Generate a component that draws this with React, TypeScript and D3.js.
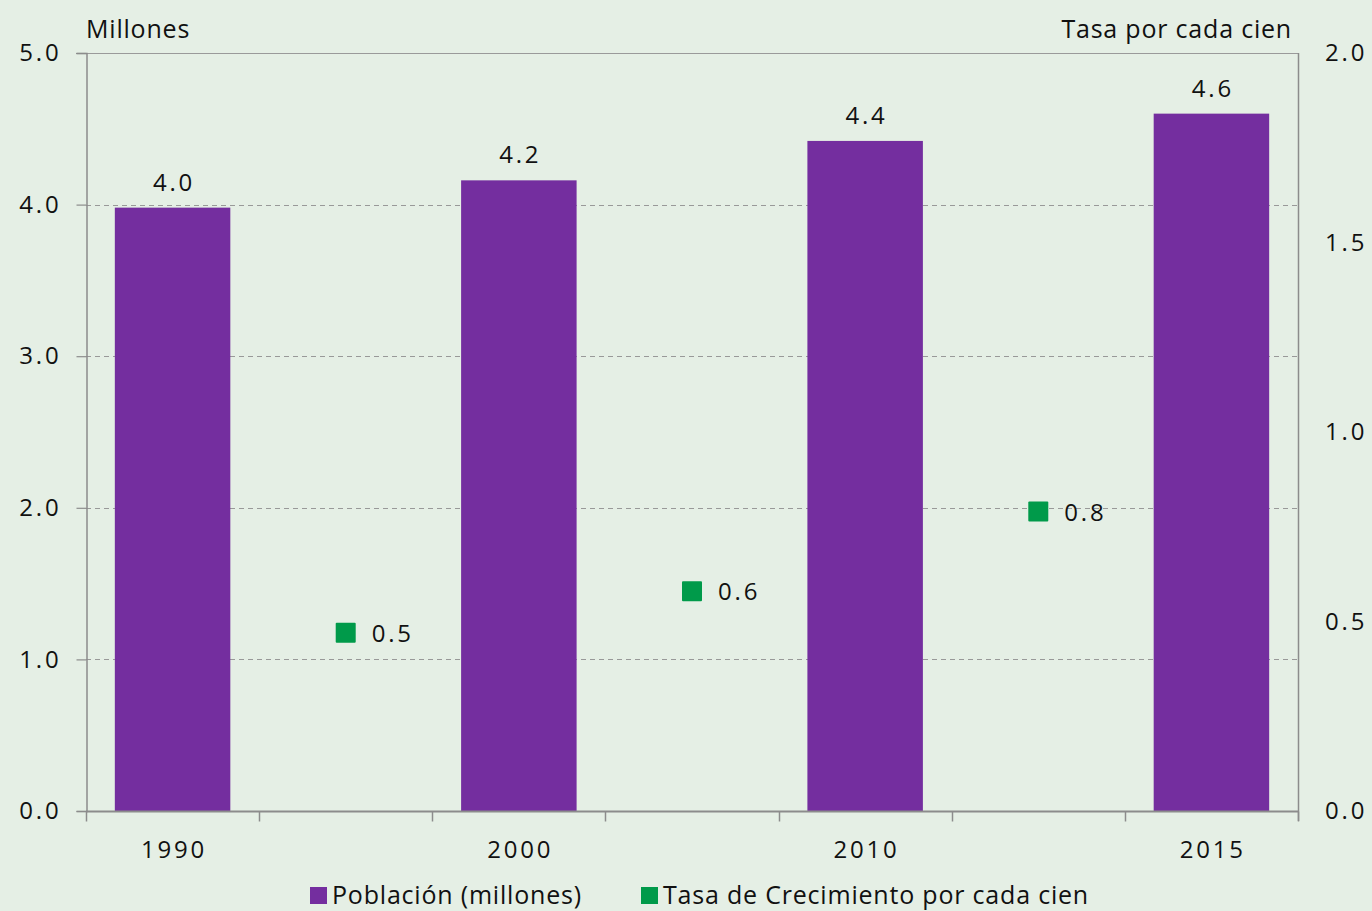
import React, { useEffect, useRef } from 'react';
import * as d3 from 'd3';

// Categories: 7 slots, bars on the year slots, growth markers in between
const slots = ['1990', 'g1', '2000', 'g2', '2010', 'g3', '2015'];
const years = ['1990', '2000', '2010', '2015'];
const poblacion = [3.98, 4.16, 4.42, 4.6];
const poblacionLabels = ['4.0', '4.2', '4.4', '4.6'];
const tasaSlots = ['g1', 'g2', 'g3'];
const tasa = [0.47, 0.58, 0.79];
const tasaLabels = ['0.5', '0.6', '0.8'];
const leftTicks = [0, 1, 2, 3, 4, 5];
const rightTicks = [0, 0.5, 1, 1.5, 2];

const PURPLE = '#742e9f';
const GREEN = '#009a4a';
const BG = '#e5efe5';
const AXIS = '#8c8c8c';
const FONT = '"Open Sans", sans-serif';
const NUM_LS = '2.8px'; // numbers are spaced out in the original
const TXT_LS = '0.8px';

export default function App() {
  const svgRef = useRef<SVGSVGElement>(null);

  useEffect(() => {
    if (!svgRef.current) return;
    const svg = d3.select(svgRef.current);
    svg.selectAll('*').remove();

    const width = 1372;
    const height = 911;
    const margin = { top: 53, right: 74, bottom: 100, left: 86 };
    const x0 = margin.left;
    const x1 = width - margin.right;
    const y0 = height - margin.bottom;
    const y1 = margin.top;

    svg.append('rect').attr('width', width).attr('height', height).attr('fill', BG);

    const x = d3.scaleBand<string>().domain(slots).range([x0, x1]).padding(0);
    const yL = d3.scaleLinear().domain([0, 5]).range([y0, y1]);
    const yR = d3.scaleLinear().domain([0, 2]).range([y0, y1]);
    const barW = x.bandwidth() * 0.667;

    // gridlines
    svg.append('g')
      .selectAll('line')
      .data(leftTicks.filter(d => d > 0 && d < 5))
      .enter().append('line')
      .attr('x1', x0).attr('x2', x1)
      .attr('y1', d => Math.round(yL(d)) + 0.5)
      .attr('y2', d => Math.round(yL(d)) + 0.5)
      .attr('stroke', '#999')
      .attr('stroke-width', 1)
      .attr('stroke-dasharray', '5,4');

    // top and right frame
    svg.append('line')
      .attr('x1', x0 - 10).attr('x2', x1)
      .attr('y1', Math.round(yL(5)) + 0.5).attr('y2', Math.round(yL(5)) + 0.5)
      .attr('stroke', '#9a9a9a').attr('stroke-width', 1.2);
    svg.append('line')
      .attr('x1', x1 + 0.5).attr('x2', x1 + 0.5)
      .attr('y1', y1).attr('y2', y0 + 10)
      .attr('stroke', AXIS).attr('stroke-width', 1.5);

    // bars
    svg.append('g')
      .selectAll('rect')
      .data(years)
      .enter().append('rect')
      .attr('x', d => (x(d) as number) + (x.bandwidth() - barW) / 2)
      .attr('width', barW)
      .attr('y', (d, i) => yL(poblacion[i]))
      .attr('height', (d, i) => y0 - yL(poblacion[i]))
      .attr('fill', PURPLE);

    svg.append('g')
      .selectAll('text')
      .data(years)
      .enter().append('text')
      .attr('x', d => (x(d) as number) + x.bandwidth() / 2 + 1.4)
      .attr('y', (d, i) => yL(poblacion[i]) - 17)
      .attr('text-anchor', 'middle')
      .style('font-family', FONT)
      .style('font-size', '24px')
      .style('letter-spacing', NUM_LS)
      .attr('fill', '#111')
      .text((d, i) => poblacionLabels[i]);

    // growth markers
    const ms = 20;
    svg.append('g')
      .selectAll('rect')
      .data(tasaSlots)
      .enter().append('rect')
      .attr('x', d => (x(d) as number) + x.bandwidth() / 2 - ms / 2)
      .attr('y', (d, i) => yR(tasa[i]) - ms / 2)
      .attr('width', ms).attr('height', ms)
      .attr('rx', 1)
      .attr('fill', GREEN);

    svg.append('g')
      .selectAll('text')
      .data(tasaSlots)
      .enter().append('text')
      .attr('x', d => (x(d) as number) + x.bandwidth() / 2 + 26)
      .attr('y', (d, i) => yR(tasa[i]) + 9)
      .style('font-family', FONT)
      .style('font-size', '24px')
      .style('letter-spacing', NUM_LS)
      .attr('fill', '#111')
      .text((d, i) => tasaLabels[i]);

    // left axis
    const left = svg.append('g')
      .attr('transform', `translate(${x0 + 0.5},0)`)
      .call(d3.axisLeft(yL).tickValues(leftTicks).tickFormat(d3.format('.1f')).tickSizeOuter(0).tickSize(10).tickPadding(15));
    left.select('.domain').attr('stroke', AXIS).attr('stroke-width', 1.5);
    left.selectAll('.tick line').attr('stroke', AXIS).attr('stroke-width', 1.2);
    left.selectAll('text')
      .style('font-family', FONT).style('font-size', '24px').style('letter-spacing', NUM_LS).attr('fill', '#111');

    // right axis labels
    const right = svg.append('g')
      .attr('transform', `translate(${x1},0)`)
      .call(d3.axisRight(yR).tickValues(rightTicks).tickFormat(d3.format('.1f')).tickSizeOuter(0).tickSize(0).tickPadding(27));
    right.select('.domain').remove();
    right.selectAll('text')
      .style('font-family', FONT).style('font-size', '24px').style('letter-spacing', NUM_LS).attr('fill', '#111');

    // bottom axis
    const bottom = svg.append('g').attr('transform', `translate(0,${y0 + 0.5})`);
    bottom.append('line')
      .attr('x1', x0).attr('x2', x1 + 1)
      .attr('stroke', AXIS).attr('stroke-width', 1.8);
    bottom.selectAll('.sep')
      .data(slots.concat(['end']))
      .enter().append('line')
      .attr('class', 'sep')
      .attr('x1', (d, i) => Math.round(x0 + i * x.step()) + 0.5)
      .attr('x2', (d, i) => Math.round(x0 + i * x.step()) + 0.5)
      .attr('y1', 0).attr('y2', 10)
      .attr('stroke', AXIS).attr('stroke-width', 1.5);
    bottom.selectAll('.yr')
      .data(years)
      .enter().append('text')
      .attr('class', 'yr')
      .attr('x', d => (x(d) as number) + x.bandwidth() / 2 + 1.4)
      .attr('y', 46)
      .attr('text-anchor', 'middle')
      .style('font-family', FONT).style('font-size', '24px').style('letter-spacing', NUM_LS).attr('fill', '#111')
      .text(d => d);

    // axis titles
    svg.append('text')
      .attr('x', x0).attr('y', 38)
      .style('font-family', FONT).style('font-size', '25px').style('letter-spacing', TXT_LS).attr('fill', '#111')
      .text('Millones');
    svg.append('text')
      .attr('x', 1292).attr('y', 38)
      .attr('text-anchor', 'end')
      .style('font-family', FONT).style('font-size', '25px').style('letter-spacing', TXT_LS).attr('fill', '#111')
      .text('Tasa por cada cien');

    // legend
    const legend = [
      { label: 'Población (millones)', color: PURPLE, x: 310 },
      { label: 'Tasa de Crecimiento por cada cien', color: GREEN, x: 641 },
    ];
    const lg = svg.append('g');
    legend.forEach(l => {
      lg.append('rect').attr('x', l.x).attr('y', 887).attr('width', 17).attr('height', 17).attr('fill', l.color);
      lg.append('text')
        .attr('x', l.x + 22).attr('y', 904)
        .style('font-family', FONT).style('font-size', '25px').style('letter-spacing', TXT_LS).attr('fill', '#111')
        .text(l.label);
    });
  }, []);

  return (
    <svg
      ref={svgRef}
      width={1372}
      height={911}
      style={{ position: 'absolute', left: 0, top: 0, display: 'block' }}
    />
  );
}
